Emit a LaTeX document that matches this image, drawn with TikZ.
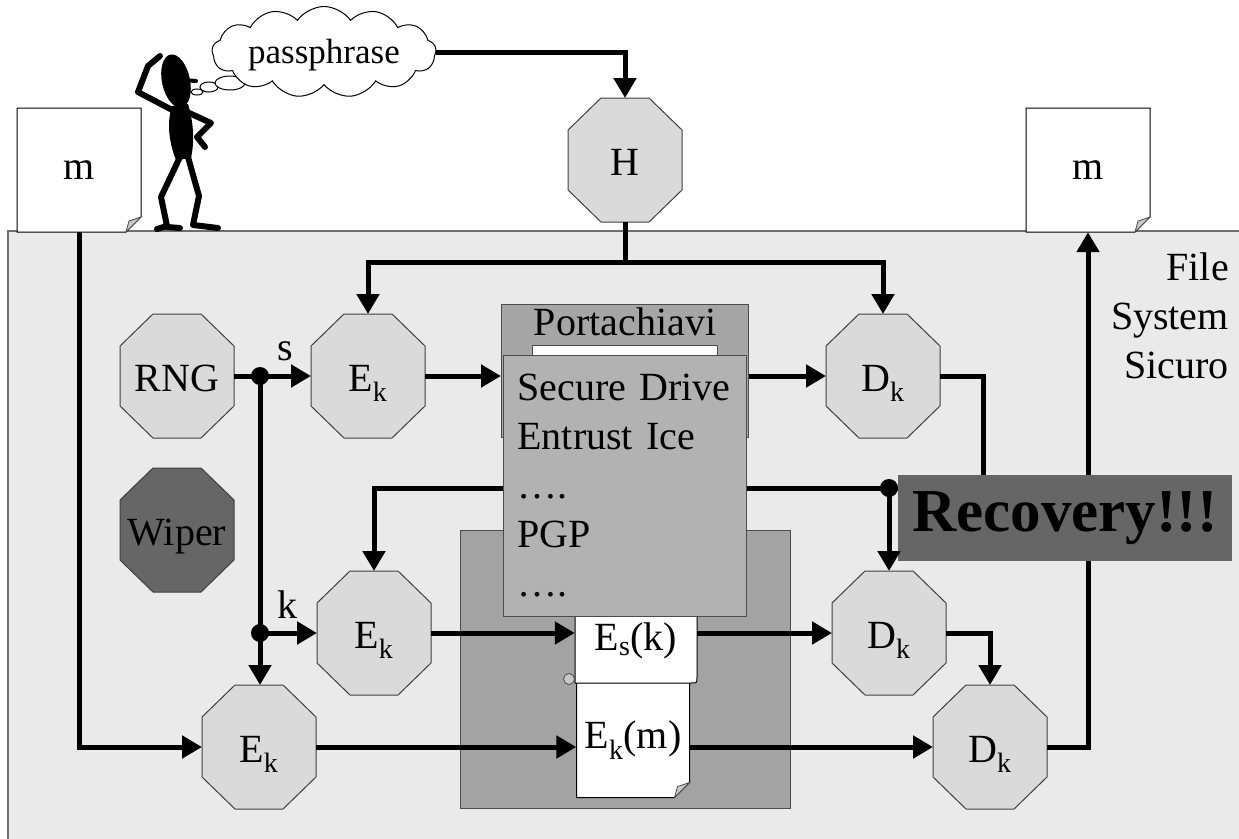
\documentclass[tikz,border=0pt]{standalone}
\usepackage{fontspec}
\setmainfont{Liberation Serif}
\usetikzlibrary{calc, positioning, arrows.meta, shapes.symbols}

\definecolor{fsback}{HTML}{EAEAEA}
\definecolor{fsedge}{HTML}{6E6E6E}
\definecolor{octfill}{HTML}{DADADA}
\definecolor{darkfill}{HTML}{666666}
\definecolor{vaultfill}{HTML}{A3A3A3}
\definecolor{ringfill}{HTML}{A6A6A6}
\definecolor{listfill}{HTML}{B2B2B2}
\definecolor{foldfill}{HTML}{C8C8C8}

\begin{document}
\begin{tikzpicture}[x=1pt, y=-1pt, font=\fontsize{40}{49}\selectfont]
		\useasboundingbox (0,0) rectangle (1239,838);

		\tikzstyle{wire} = [line width=5pt]
		\tikzstyle{flow} = [wire, -{Triangle[length=20pt, width=22pt]}]
		\tikzstyle{octline} = [line width=1pt, draw=black!75]
		\tikzstyle{octo} = [minimum width=114pt, minimum height=124pt, inner sep=0pt, outer sep=0pt, text height=30pt, text depth=0pt]
		\tikzstyle{paper} = [line width=1pt, draw=black, fill=white]
		\tikzstyle{fold} = [line width=0.8pt, draw=black!70, fill=foldfill]
		\tikzstyle{panel} = [line width=1pt, draw=black!70]
		\tikzstyle{limb} = [line width=6pt, line cap=round, line join=round]

		\def\ek{E\textsubscript{k}}
		\def\dk{D\textsubscript{k}}
		% octagon gate: name, centre, fill, label
		\def\gate#1#2#3#4{%
			\filldraw[octline, fill=#3, shift={(#2)}]
				(-24,-62) -- (24,-62) -- (57,-30) -- (57,30) -- (24,62) -- (-24,62) -- (-57,30) -- (-57,-30) -- cycle;
			\node[octo] (#1) at (#2) {#4};
		}
		% sheet with a dog-ear: name, centre, width, height, label
		\def\sheet#1#2#3#4#5{%
			\filldraw[paper, shift={(#2)}]
				({-#3/2},{-#4/2}) -- ({#3/2},{-#4/2}) -- ({#3/2},{#4/2-15}) -- ({#3/2-15},{#4/2}) -- ({-#3/2},{#4/2}) -- cycle;
			\filldraw[fold, shift={(#2)}]
				({#3/2},{#4/2-15}) -- ({#3/2-15},{#4/2}) -- ({#3/2-12},{#4/2-11}) -- cycle;
			\node[inner sep=0pt, minimum width=#3, minimum height=#4] (#1) at (#2) {#5};
		}

		% file system area
		\filldraw[fill=fsback, draw=fsedge, line width=1.5pt] (8,231) rectangle (1260,860);
		\node[anchor=north east, align=right, inner sep=0pt] (fss) at (1229,253) {File\\System\\Sicuro};

		\sheet{mL}{79,170}{124}{124}{m}
		\sheet{mR}{1088,170}{124}{124}{m}

		\node[panel, fill=vaultfill, anchor=north west, minimum width=330, minimum height=278] (vault) at (460,530) {};

		\gate{H}{625,160}{octfill}{H}
		\gate{rng}{177,376}{octfill}{RNG}
		\gate{wiper}{177,530}{darkfill}{Wiper}
		\gate{encS}{368,376}{octfill}{\ek}
		\gate{encK}{374,633}{octfill}{\ek}
		\gate{encM}{259,747}{octfill}{\ek}
		\gate{decS}{883,376}{octfill}{\dk}
		\gate{decK}{889,633}{octfill}{\dk}
		\gate{decM}{990,747}{octfill}{\dk}

		% runs that pass behind the boxes
		\coordinate (back) at (983,488);
		\coordinate (jr) at (889,488);
		\draw[flow] (decS.east) -| (back) -| (encK.north);
		\draw[flow] (decM.east) -| (mR.south);

		% key ring
		\node[panel, fill=ringfill, anchor=north west, minimum width=247, minimum height=133] (ring) at (501,304) {};
		\node[below=4pt of ring.north, inner sep=0pt] (ringtitle) {Portachiavi};
		\filldraw[line width=0.8pt, draw=black!70, fill=white] (532,345) rectangle (717,362);

		\sheet{cipher}{633,740}{113}{115}{E\textsubscript{k}(m)}
		\filldraw[paper] (575,590) -- (575,683) -- (691,683) .. controls (697,683) .. (697,677) -- (697,590) -- cycle;
		\filldraw[fold] (569,679) circle (5.5);
		\node[inner sep=0pt, minimum width=122, minimum height=83] (wrapped) at (636,641) {E\textsubscript{s}(k)};

		\node[panel, fill=listfill, anchor=north west, text width=215, align=left, inner xsep=14, inner ysep=8, minimum height=261] (keys) at (503,355)
			{Secure Drive\\Entrust Ice\\….\\PGP\\….};

		\node[fill=darkfill, minimum width=334, minimum height=86, inner sep=0pt, font=\fontsize{61}{61}\selectfont\bfseries] (recovery) at (1065,518) {Recovery!!!};

		% passphrase into the hash
		\coordinate (hsplit) at (625,262);
		\draw[wire] (H.south) -- (hsplit);
		\draw[flow] (hsplit) -| (encS.north);
		\draw[flow] (hsplit) -| (decS.north);

		% random key material
		\coordinate (js) at (260,376);
		\coordinate (jk) at (260,633);
		\draw[wire] (rng.east) -- (js);
		\draw[flow] (js) -- (encS.west);
		\draw[wire] (js) -- (jk);
		\draw[flow] (jk) -- (encK.west);
		\draw[flow] (jk) -- (jk |- encM.north);
		\node[inner sep=0pt] (slabel) at (285,351) {s};
		\node[inner sep=0pt] (klabel) at (287,605) {k};

		\draw[flow] (mL.south) |- (encM.west);
		\draw[flow] (encS.east) -- (encS.east -| ring.west);
		\draw[flow] (ring.east |- decS.west) -- (decS.west);
		\draw[flow] (encK.east) -- (encK.east -| wrapped.west);
		\draw[flow] (wrapped.east |- decK.west) -- (decK.west);
		\draw[flow] (encM.east) -- (encM.east -| cipher.west);
		\draw[flow] (cipher.east |- decM.west) -- (decM.west);
		\draw[flow] (decK.east) -| (decM.north);
		\draw[flow] (jr) -- (decK.north);

		\fill (js) circle (9);
		\fill (jk) circle (9);
		\fill (jr) circle (9);

		% thinker
		\draw[line width=1pt, fill=white] (197,92) ellipse (6 and 3);
		\draw[line width=1pt, fill=white] (209,87) ellipse (9 and 5);
		\draw[line width=1pt, fill=white] (230,83) ellipse (15 and 7);
		\node[cloud, draw, line width=1pt, fill=white, cloud puffs=13, cloud puff arc=110, cloud ignores aspect,
			minimum width=224, minimum height=91, inner sep=0pt, text height=22pt, text depth=0pt,
			font=\fontsize{35}{40}\selectfont] (pp) at (324,52) {passphrase};
		\draw[flow] (pp.east) -| (H.north);

		\fill[rotate around={12:(176,81)}] (176,81) ellipse (14 and 27);
		\draw[line width=4pt, line cap=round] (183,80) -- (196,81);
		\fill (172,106) .. controls (166,125) and (170,145) .. (176,160) -- (191,158) .. controls (195,140) and (193,120) .. (188,104) -- cycle;
		\draw[limb] (176,112) -- (138,92) -- (148,66) -- (160,56);
		\draw[limb] (187,112) -- (211,123) -- (197,137) -- (205,147);
		\draw[limb] (180,157) -- (161,197) -- (167,226) -- (157,229);
		\draw[limb] (167,227) -- (180,228);
		\draw[limb] (188,157) -- (199,196) -- (193,225) -- (218,228);
	\end{tikzpicture}
\end{document}
